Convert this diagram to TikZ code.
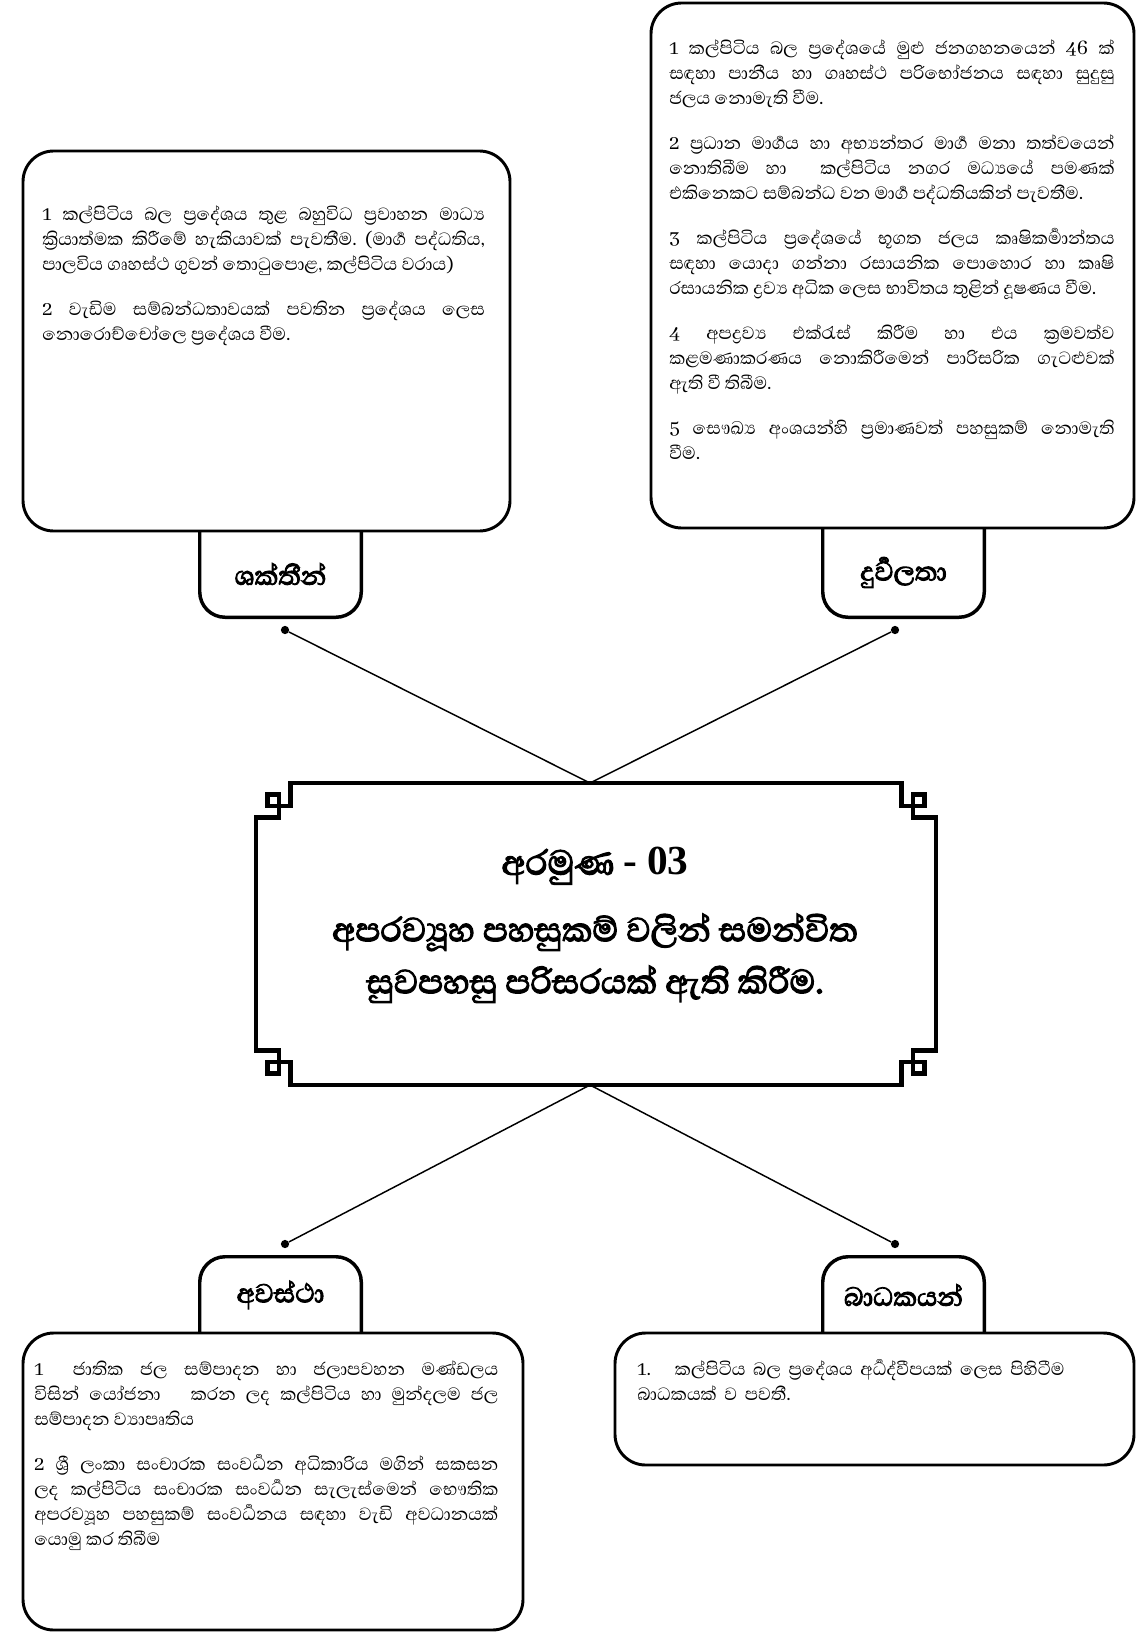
\documentclass[tikz,border=0pt]{standalone}
\usepackage{fontspec}
\setmainfont{Abhaya Libre}[Script=Sinhala, Numbers=Lining]
\newfontfamily\headfont{Abhaya Libre}[Script=Sinhala, Numbers=Lining, FakeBold=3]
\newfontfamily\numfont{Liberation Serif}
\frenchspacing

\begin{document}
\begin{tikzpicture}[
  x=0.75pt, y=-0.75pt,
  infobox/.style={draw=black, line width=2.2pt, rounded corners=23pt, fill=white},
  tabshape/.style={inner sep=0pt, minimum width=120.75pt, minimum height=64.5pt,
                   font=\headfont\fontsize{25}{28}\selectfont},
  tabline/.style={draw=black, line width=2.6pt, rounded corners=19pt},
  bodytext/.style={inner sep=0pt, anchor=north west, align=justify,
                   font=\fontsize{17}{18.75}\selectfont},
  dot/.style={circle, fill=black, inner sep=0pt, minimum size=6.2pt},
  link/.style={line width=1.1pt},
  aimframe/.style={draw=black, line width=3.6pt, line join=miter},
  aimtext/.style={align=center, font=\headfont\fontsize{32}{39}\selectfont}
]
\useasboundingbox (0,0) rectangle (1136,1633);

% Strengths (top left)
\node[tabshape] (stab) at (280.5,574) {ශක්තීන්};
\draw[tabline] (stab.north west) |- (stab.south) -| (stab.north east);
\node[infobox, minimum width=365.25pt, minimum height=285pt] (sbox) at (266.5,341) {};
\node[bodytext, text width=332pt] (stext) at (42,206)
  {1 කල්පිටිය බල ප්‍රදේශය තුළ බහුවිධ ප්‍රවාහන මාධ්‍ය\linebreak
   ක්‍රියාත්මක කිරීමේ හැකියාවක් පැවතීම. (මාර්‍ග පද්ධතිය,\linebreak
   පාලවිය ගෘහස්ථ ගුවන් තොටුපොළ, කල්පිටිය වරාය)\par\vspace{15pt}
   2 වැඩිම සම්බන්ධතාවයක් පවතින ප්‍රදේශය ලෙස\linebreak
   නොරොච්චෝලෙ ප්‍රදේශය වීම.};

% Weaknesses (top right)
\node[tabshape, minimum height=66.75pt] (wtab) at (903.5,572.5) {දුර්‍වලතා};
\draw[tabline] (wtab.north west) |- (wtab.south) -| (wtab.north east);
\node[infobox, minimum width=362.25pt, minimum height=393.75pt] (wbox) at (892.5,265.5) {};
\node[bodytext, text width=334pt] (wtext) at (669,40)
  {1 කල්පිටිය බල ප්‍රදේශයේ මුළු ජනගහනයෙන් 46 ක්\linebreak
   සඳහා පානීය හා ගෘහස්ථ පරිභෝජනය සඳහා සුදුසු\linebreak
   ජලය නොමැති වීම.\par\vspace{15pt}
   2 ප්‍රධාන මාර්‍ගය හා අභ්‍යන්තර මාර්‍ග මනා තත්වයෙන්\linebreak
   නොතිබීම හා\ \ කල්පිටිය නගර මධ්‍යයේ පමණක්\linebreak
   එකිනෙකට සම්බන්ධ වන මාර්‍ග පද්ධතියකින් පැවතීම.\par\vspace{15pt}
   3 කල්පිටිය ප්‍රදේශයේ භූගත ජලය කෘෂිකර්‍මාන්තය\linebreak
   සඳහා යොදා ගන්නා රසායනික පොහොර හා කෘෂි\linebreak
   රසායනික ද්‍රව්‍ය අධික ලෙස භාවිතය තුළින් දූෂණය වීම.\par\vspace{15pt}
   4 අපද්‍රව්‍ය එක්රැස් කිරීම හා එය ක්‍රමවත්ව\linebreak
   කළමණාකරණය නොකිරීමෙන් පාරිසරික ගැටළුවක්\linebreak
   ඇති වී තිබීම.\par\vspace{15pt}
   5 සෞඛ්‍ය අංශයන්හි ප්‍රමාණවත් පහසුකම් නොමැති\linebreak
   වීම.};

% Central aim frame
\draw[aimframe] (290.5,783) -- (901.5,783) -- (901.5,806) -- (924.5,806) -- (924.5,794.5)
  -- (913,794.5) -- (913,817.5) -- (936,817.5) -- (936,1050.5) -- (913,1050.5)
  -- (913,1073.5) -- (924.5,1073.5) -- (924.5,1062) -- (901.5,1062) -- (901.5,1085)
  -- (290.5,1085) -- (290.5,1062) -- (267.5,1062) -- (267.5,1073.5) -- (279,1073.5)
  -- (279,1050.5) -- (256,1050.5) -- (256,817.5) -- (279,817.5) -- (279,794.5)
  -- (267.5,794.5) -- (267.5,806) -- (290.5,806) -- cycle;
\node[aimtext] (aim) at (595,925)
  {{\fontsize{33}{36}\selectfont අරමුණ {\numfont\bfseries\fontsize{31}{36}\selectfont - 03}}\\[11pt]
   අපරව්‍යූහ පහසුකම් වලින් සමන්විත\\
   සුවපහසු පරිසරයක් ඇති කිරීම.};
\coordinate (aimtop) at (590,783);
\coordinate (aimbot) at (590,1085);

% Connectors
\node[dot] (sdot) at (285,630) {};
\node[dot] (wdot) at (895,630) {};
\node[dot] (odot) at (285,1244) {};
\node[dot] (tdot) at (895,1244) {};
\draw[link] (sdot) -- (aimtop);
\draw[link] (wdot) -- (aimtop);
\draw[link] (odot) -- (aimbot);
\draw[link] (tdot) -- (aimbot);

% Opportunities (bottom left)
\node[tabshape, minimum height=57pt] (otab) at (280.5,1295) {අවස්ථා};
\draw[tabline] (otab.south west) |- (otab.north) -| (otab.south east);
\node[infobox, minimum width=375pt, minimum height=222.75pt] (obox) at (273,1481.5) {};
\node[bodytext, text width=348pt] (otext) at (34,1361)
  {1\hspace{22pt}ජාතික ජල සම්පාදන හා ජලාපවහන මණ්ඩලය\linebreak
   විසින් යෝජනා\hspace{15pt} කරන ලද කල්පිටිය හා මුන්දලම ජල\linebreak
   සම්පාදන ව්‍යාපෘතිය\par\vspace{15pt}
   2 ශ්‍රී ලංකා සංචාරක සංවර්‍ධන අධිකාරිය මගින් සකසන\linebreak
   ලද කල්පිටිය සංචාරක සංවර්‍ධන සැලැස්මෙන් භෞතික\linebreak
   අපරව්‍යූහ පහසුකම් සංවර්‍ධනය සඳහා වැඩි අවධානයක්\linebreak
   යොමු කර තිබීම};

% Threats (bottom right)
\node[tabshape, minimum height=57pt] (ttab) at (903.5,1295) {බාධකයන්};
\draw[tabline] (ttab.south west) |- (ttab.north) -| (ttab.south east);
\node[infobox, minimum width=389.25pt, minimum height=99pt] (tbox) at (874.5,1399) {};
\node[bodytext, align=left, text width=352pt] (ttext) at (637,1359)
  {1.\hspace{18pt}කල්පිටිය බල ප්‍රදේශය අර්‍ධද්වීපයක් ලෙස පිහිටීම\\
   බාධකයක් ව පවතී.};

\end{tikzpicture}
\end{document}
